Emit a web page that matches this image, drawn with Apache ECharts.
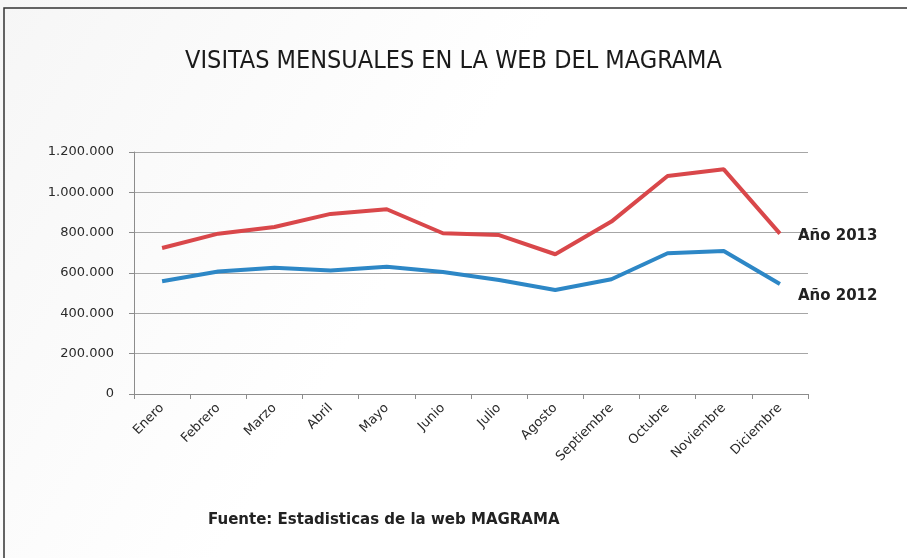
<!DOCTYPE html>
<html><head><meta charset="utf-8">
<script src="https://cdn.jsdelivr.net/npm/echarts@6/dist/echarts.min.js"></script>
<style>html,body{margin:0;padding:0;background:#fff}#c{width:907px;height:558px}</style>
</head><body><div id="c"></div>
<script>
const months = ['Enero','Febrero','Marzo','Abril','Mayo','Junio','Julio','Agosto','Septiembre','Octubre','Noviembre','Diciembre'];
const visitas2013 = [724000, 795000, 828000, 893000, 916000, 797000, 788000, 693000, 855000, 1081000, 1114000, 795000];
const visitas2012 = [559000, 607000, 626000, 612000, 631000, 605000, 565000, 516000, 569000, 698000, 709000, 545000];
const yTicks = [0, 200000, 400000, 600000, 800000, 1000000, 1200000];

const fmt = v => String(v).replace(/\B(?=(\d{3})+(?!\d))/g, '.');
const chart = echarts.init(document.getElementById('c'), null, {renderer: 'canvas'});
chart.setOption({
  animation: false,
  backgroundColor: {
    type: 'linear', x: 0, y: 0, x2: 1, y2: 1,
    colorStops: [{offset: 0, color: '#f6f6f6'}, {offset: 0.45, color: '#ffffff'}, {offset: 1, color: '#ffffff'}]
  },
  title: {
    text: 'VISITAS MENSUALES EN LA WEB DEL MAGRAMA',
    left: 'center', top: 44,
    textStyle: {fontFamily: 'Liberation Sans Narrow, DejaVu Sans Condensed, sans-serif', fontWeight: 'normal', fontSize: 25, color: '#1a1a1a'}
  },
  grid: {left: 134, right: 99, top: 152, bottom: 164},
  xAxis: {
    type: 'category', data: months, boundaryGap: true,
    axisLine: {lineStyle: {color: '#8c8c8c', width: 1}},
    axisTick: {show: true, length: 5, lineStyle: {color: '#8c8c8c'}},
    axisLabel: {rotate: 45, interval: 0, margin: 12, fontFamily: 'DejaVu Sans, sans-serif', fontSize: 13, color: '#2a2a2a'}
  },
  yAxis: {
    type: 'value', min: yTicks[0], max: yTicks[yTicks.length - 1], interval: 200000,
    axisLine: {show: true, lineStyle: {color: '#8c8c8c', width: 1}},
    axisTick: {show: true, length: 5, lineStyle: {color: '#8c8c8c'}},
    splitLine: {lineStyle: {color: '#a6a6a6', width: 1}},
    axisLabel: {formatter: fmt, margin: 20, fontFamily: 'DejaVu Sans, sans-serif', fontSize: 13, color: '#2a2a2a'}
  },
  series: [
    {
      name: 'Año 2013', type: 'line', data: visitas2013, symbol: 'none',
      lineStyle: {color: '#d9474a', width: 4},
      endLabel: {show: true, formatter: '{a}', offset: [10, 2], fontFamily: 'DejaVu Sans, sans-serif', fontWeight: 'bold', fontSize: 15, color: '#222'}
    },
    {
      name: 'Año 2012', type: 'line', data: visitas2012, symbol: 'none',
      lineStyle: {color: '#2d87c6', width: 4},
      endLabel: {show: true, formatter: '{a}', offset: [10, 12], fontFamily: 'DejaVu Sans, sans-serif', fontWeight: 'bold', fontSize: 15, color: '#222'}
    }
  ],
  graphic: [
    {type: 'rect', shape: {x: 4, y: 8, width: 920, height: 580}, style: {fill: 'none', stroke: '#333', lineWidth: 1.5}, silent: true},
    {type: 'text', left: 208, top: 513, style: {text: 'Fuente: Estadisticas de la web MAGRAMA', fontFamily: 'DejaVu Sans, sans-serif', fontWeight: 'bold', fontSize: 15, fill: '#222'}}
  ]
});
</script></body></html>
